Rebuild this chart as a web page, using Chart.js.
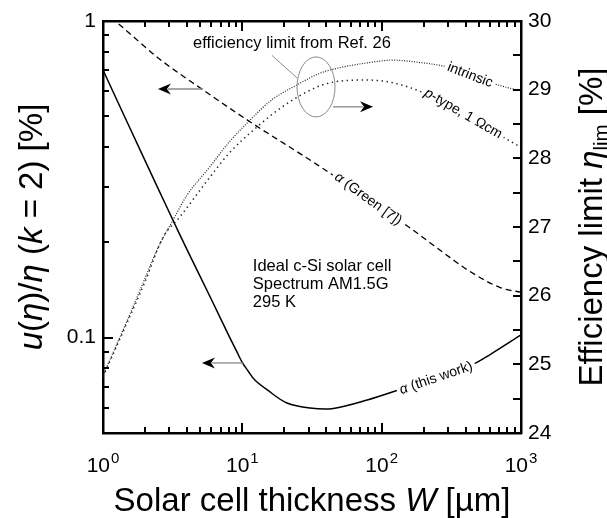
<!DOCTYPE html>
<html><head><meta charset="utf-8">
<script src="https://cdn.jsdelivr.net/npm/chart.js@4.4.1/dist/chart.umd.min.js"></script>
<style>html,body{margin:0;padding:0;background:#fff;overflow:hidden}canvas{display:block}</style>
</head><body>
<canvas id="c" width="607" height="518" style="width:607px;height:518px"></canvas>
<script>
const FONT = '"Liberation Sans", Arial, Helvetica, sans-serif';

// ---- Data ----
const thicknessThisWork = [1, 2, 3, 4, 6, 8, 9, 10, 11, 12.3, 15.1, 20.9, 30.6, 45, 80, 135, 200, 300, 450, 600, 1000];
const alphaThisWork     = [0.70, 0.363, 0.248, 0.19, 0.132, 0.1015, 0.0915, 0.0834, 0.0785, 0.0735, 0.0684, 0.0622, 0.060, 0.0598, 0.0637, 0.0686, 0.0727, 0.0769, 0.0822, 0.0884, 0.102];

const thicknessGreen = [1, 1.22, 2.57, 5.22, 11.4, 34.4, 80, 160, 310, 410, 708, 1000];
const alphaGreen     = [1.07, 1.0, 0.756, 0.606, 0.48, 0.352, 0.274, 0.222, 0.179, 0.164, 0.144, 0.139];

const thicknessIntrinsic = [1, 1.5, 2, 2.5, 3.18, 4, 5.87, 8, 11.4, 16, 24.7, 36.1, 50, 78.6, 121, 180, 295, 430, 631, 1000];
const effIntrinsic       = [24.84, 25.65, 26.25, 26.71, 27.10, 27.46, 27.88, 28.23, 28.56, 28.84, 29.07, 29.24, 29.32, 29.39, 29.43, 29.40, 29.33, 29.21, 29.09, 28.98];

const thicknessPType = [1, 1.5, 2, 2.7, 3.57, 5.87, 8, 12.8, 20, 34.4, 44.9, 78.6, 114, 197, 385, 745, 1000];
const effPType       = [24.82, 25.62, 26.2, 26.85, 27.15, 27.73, 28.07, 28.46, 28.77, 29.04, 29.11, 29.14, 29.11, 28.96, 28.65, 28.31, 28.16];

// ---- Ticks ----
const xMajorTicks = [1, 10, 100, 1000];
const xTickExponents = ['0', '1', '2', '3'];
const xMinorTicks = [2, 3, 4, 5, 6, 7, 8, 9, 20, 30, 40, 50, 60, 70, 80, 90, 200, 300, 400, 500, 600, 700, 800, 900];
const yLeftMajorTicks = [0.1, 1];
const yLeftTickLabels = ['0.1', '1'];
const yLeftMinorTicks = [0.05, 0.06, 0.07, 0.08, 0.09, 0.2, 0.3, 0.4, 0.5, 0.6, 0.7, 0.8, 0.9];
const yRightTicks = [24, 25, 26, 27, 28, 29, 30];
const yRightTickLabels = ['24', '25', '26', '27', '28', '29', '30'];
const yRightMinorTicks = [24.5, 25.5, 26.5, 27.5, 28.5, 29.5];

function pts(xs, ys) { return xs.map((x, i) => ({x: x, y: ys[i]})); }

function fontStr(r, size) { return (r.i ? 'italic ' : '') + (r.s ? size * r.s : size) + 'px ' + FONT; }
function richWidth(ctx, runs, size) {
  let w = 0;
  for (const r of runs) { ctx.font = fontStr(r, size); w += ctx.measureText(r.t).width; }
  return w;
}
function drawRich(ctx, runs, size, x, y, align) {
  const w = richWidth(ctx, runs, size);
  let cx = align === 'center' ? x - w / 2 : (align === 'right' ? x - w : x);
  for (const r of runs) {
    ctx.font = fontStr(r, size);
    ctx.fillText(r.t, cx, y + (r.dy || 0) * size);
    cx += ctx.measureText(r.t).width;
  }
  return w;
}
function curveLabel(ctx, runs, size, x, y, deg) {
  ctx.save();
  ctx.translate(x, y);
  ctx.rotate(deg * Math.PI / 180);
  const w = richWidth(ctx, runs, size);
  ctx.fillStyle = '#fff';
  ctx.fillRect(-w / 2 - 3, -size * 0.55, w + 6, size * 1.1);
  ctx.fillStyle = '#000';
  ctx.textBaseline = 'middle';
  drawRich(ctx, runs, size, -w / 2, 0, 'left');
  ctx.restore();
}
function seg(ctx, x1, y1, x2, y2) {
  ctx.beginPath(); ctx.moveTo(x1, y1); ctx.lineTo(x2, y2); ctx.stroke();
}
function arrow(ctx, x1, y1, x2, y2) {
  const ang = Math.atan2(y2 - y1, x2 - x1);
  const L = 13, H = 5.5;
  const bx = x2 - L * Math.cos(ang), by = y2 - L * Math.sin(ang);
  ctx.save();
  ctx.setLineDash([]);
  ctx.strokeStyle = '#8a8a8a'; ctx.lineWidth = 1.3;
  seg(ctx, x1, y1, bx + 3 * Math.cos(ang), by + 3 * Math.sin(ang));
  ctx.fillStyle = '#000';
  ctx.beginPath();
  ctx.moveTo(x2, y2);
  ctx.lineTo(bx - H * Math.sin(ang), by + H * Math.cos(ang));
  ctx.lineTo(bx + 4 * Math.cos(ang), by + 4 * Math.sin(ang));
  ctx.lineTo(bx + H * Math.sin(ang), by - H * Math.cos(ang));
  ctx.closePath(); ctx.fill();
  ctx.restore();
}

const decor = {
  id: 'decor',
  afterDatasetsDraw(chart) {
    const ctx = chart.ctx, sx = chart.scales.x, sy = chart.scales.y, sy2 = chart.scales.y2;
    ctx.save();
    curveLabel(ctx, [{t: 'α', i: true}, {t: ' (this work)'}], 14, sx.getPixelForValue(246), sy.getPixelForValue(0.0745), -19);
    curveLabel(ctx, [{t: 'α', i: true}, {t: ' (Green [7])'}], 14, sx.getPixelForValue(80), sy.getPixelForValue(0.274), 36);
    curveLabel(ctx, [{t: 'intrinsic'}], 14, sx.getPixelForValue(430), sy2.getPixelForValue(29.21), 21);
    curveLabel(ctx, [{t: 'p', i: true}, {t: '-type, 1 Ωcm'}], 14, sx.getPixelForValue(385), sy2.getPixelForValue(28.65), 30);
    ctx.restore();
  },
  afterDraw(chart) {
    const ctx = chart.ctx, a = chart.chartArea;
    const sx = chart.scales.x, sy = chart.scales.y, sy2 = chart.scales.y2;
    const L0 = a.left, R0 = a.right, T0 = a.top, B0 = a.bottom;
    ctx.save();
    ctx.globalAlpha = 1;
    ctx.globalCompositeOperation = 'source-over';
    ctx.fillStyle = '#000';
    // inward ticks drawn as filled bars
    for (const v of xMajorTicks.concat(xMinorTicks)) {
      const px = Math.round(sx.getPixelForValue(v));
      const L = xMajorTicks.indexOf(v) >= 0 ? 10 : 6;
      ctx.fillRect(px - 1, B0 - L, 2, L);
      ctx.fillRect(px - 1, T0, 2, L);
    }
    for (const v of yLeftMajorTicks.concat(yLeftMinorTicks)) {
      const py = Math.round(sy.getPixelForValue(v));
      const L = yLeftMajorTicks.indexOf(v) >= 0 ? 10 : 6;
      ctx.fillRect(L0, py - 1, L, 2);
    }
    for (const v of yRightTicks.concat(yRightMinorTicks)) {
      const py = Math.round(sy2.getPixelForValue(v));
      ctx.fillRect(R0 - 8, py - 1, 8, 2);
    }
    // x tick labels 10^n
    ctx.textBaseline = 'alphabetic';
    xMajorTicks.forEach((v, i) => {
      const px = sx.getPixelForValue(v);
      ctx.font = '21px ' + FONT;
      const w1 = ctx.measureText('10').width;
      ctx.font = '15px ' + FONT;
      const w2 = ctx.measureText(xTickExponents[i]).width;
      const x0 = px - (w1 + w2 + 1) / 2;
      ctx.font = '21px ' + FONT;
      ctx.fillText('10', x0, B0 + 39);
      ctx.font = '15px ' + FONT;
      ctx.fillText(xTickExponents[i], x0 + w1 + 1, B0 + 30);
    });
    // axis titles
    drawRich(ctx, [{t: 'Solar cell thickness '}, {t: 'W', i: true}, {t: ' [µm]'}], 33, (L0 + R0) / 2, 511, 'center');
    const cy = (T0 + B0) / 2;
    ctx.save(); ctx.translate(42, cy); ctx.rotate(-Math.PI / 2);
    drawRich(ctx, [{t: 'u', i: true}, {t: '('}, {t: 'η', i: true}, {t: ')/'}, {t: 'η', i: true}, {t: ' ('}, {t: 'k', i: true}, {t: ' = 2) [%]'}], 33, 0, 0, 'center');
    ctx.restore();
    ctx.save(); ctx.translate(602, cy); ctx.rotate(-Math.PI / 2);
    drawRich(ctx, [{t: 'Efficiency limit '}, {t: 'η', i: true}, {t: 'lim', s: 0.62, dy: 0.18}, {t: ' [%]'}], 33, 0, 0, 'center');
    ctx.restore();
    // annotations
    ctx.font = '16.5px ' + FONT;
    ctx.fillStyle = '#000';
    ctx.fillText('efficiency limit from Ref. 26', sx.getPixelForValue(4.43), sy2.getPixelForValue(29.61));
    const ix = sx.getPixelForValue(11.9), iy = sy.getPixelForValue(0.1624);
    ctx.fillText('Ideal c-Si solar cell', ix, iy);
    ctx.fillText('Spectrum AM1.5G', ix, iy + 18);
    ctx.fillText('295 K', ix, iy + 36);
    // ellipse + leader
    ctx.setLineDash([]);
    ctx.strokeStyle = '#8a8a8a'; ctx.lineWidth = 1;
    ctx.beginPath();
    ctx.ellipse(sx.getPixelForValue(33.8), sy2.getPixelForValue(29.04), 19, 30, 0, 0, Math.PI * 2);
    ctx.stroke();
    seg(ctx, sx.getPixelForValue(16.3), sy2.getPixelForValue(29.50), sx.getPixelForValue(24.7), sy2.getPixelForValue(29.17));
    // arrows
    arrow(ctx, sx.getPixelForValue(5.22), sy.getPixelForValue(0.61), sx.getPixelForValue(2.48), sy.getPixelForValue(0.61));
    arrow(ctx, sx.getPixelForValue(10.1), sy.getPixelForValue(0.0832), sx.getPixelForValue(5.13), sy.getPixelForValue(0.0832));
    arrow(ctx, sx.getPixelForValue(44.7), sy2.getPixelForValue(28.75), sx.getPixelForValue(86.7), sy2.getPixelForValue(28.75));
    ctx.restore();
  }
};

const border = {display: true, width: 2.5, color: '#000'};
new Chart(document.getElementById('c'), {
  type: 'line',
  data: {
    datasets: [
      {label: 'α (this work)', data: pts(thicknessThisWork, alphaThisWork), yAxisID: 'y', borderColor: '#000', borderWidth: 1.5, pointRadius: 0, tension: 0.35, fill: false},
      {label: 'α (Green [7])', data: pts(thicknessGreen, alphaGreen), yAxisID: 'y', borderColor: '#000', borderWidth: 1.3, borderDash: [6, 4], pointRadius: 0, cubicInterpolationMode: 'monotone', fill: false},
      {label: 'intrinsic', data: pts(thicknessIntrinsic, effIntrinsic), yAxisID: 'y2', borderColor: '#222', borderWidth: 1.2, borderDash: [1, 1.5], pointRadius: 0, cubicInterpolationMode: 'monotone', fill: false},
      {label: 'p-type, 1 Ωcm', data: pts(thicknessPType, effPType), yAxisID: 'y2', borderColor: '#222', borderWidth: 1.5, borderDash: [1.4, 3.6], pointRadius: 0, cubicInterpolationMode: 'monotone', fill: false}
    ]
  },
  options: {
    responsive: false,
    animation: false,
    devicePixelRatio: 1,
    layout: {padding: {top: 21, left: 0, right: 0, bottom: 0}},
    plugins: {legend: {display: false}, tooltip: {enabled: false}},
    scales: {
      x: {type: 'logarithmic', position: 'bottom', min: 1, max: 1000,
          ticks: {display: false}, grid: {display: false, drawTicks: false}, border: border,
          afterFit(s) { s.height = 85; }},
      xTop: {type: 'logarithmic', position: 'top', min: 1, max: 1000,
          ticks: {display: false}, grid: {display: false, drawTicks: false}, border: border,
          afterFit(s) { s.height = 0; }},
      y: {type: 'logarithmic', position: 'left', min: 0.05, max: 1,
          afterBuildTicks(s) { s.ticks = yLeftMajorTicks.map(v => ({value: v})); },
          ticks: {autoSkip: false, padding: 7, color: '#000', font: {family: FONT, size: 21},
                  callback(v) { const i = yLeftMajorTicks.indexOf(v); return i >= 0 ? yLeftTickLabels[i] : ''; }},
          grid: {display: false, drawTicks: false}, border: border,
          afterFit(s) { s.width = 103; }},
      y2: {type: 'linear', position: 'right', min: 24, max: 30,
          afterBuildTicks(s) { s.ticks = yRightTicks.map(v => ({value: v})); },
          ticks: {autoSkip: false, padding: 7, color: '#000', font: {family: FONT, size: 21},
                  callback(v) { const i = yRightTicks.indexOf(v); return i >= 0 ? yRightTickLabels[i] : ''; }},
          grid: {display: false, drawTicks: false}, border: border,
          afterFit(s) { s.width = 86; }}
    }
  },
  plugins: [decor]
});
</script>
</body></html>
